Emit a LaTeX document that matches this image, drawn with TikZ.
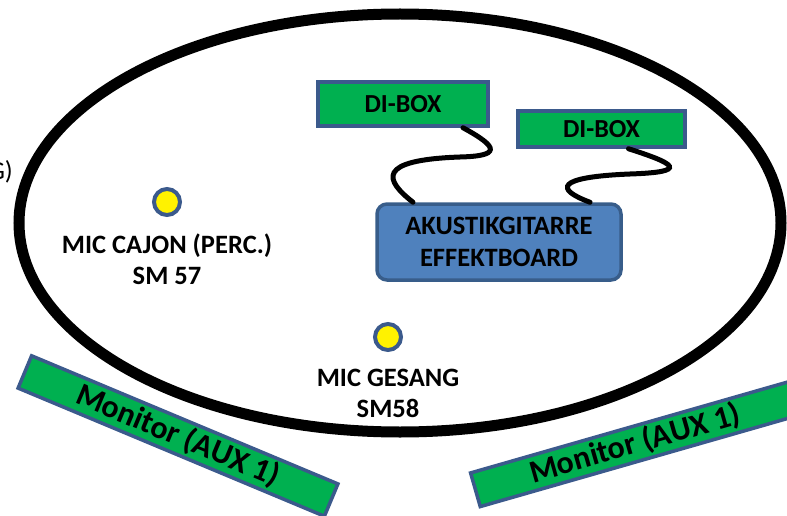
\documentclass[tikz,border=0pt]{standalone}
\usepackage{fontspec}
\setmainfont{Carlito}
\usepackage{tikz}
\usetikzlibrary{shapes.geometric, arrows, positioning, fit}

\definecolor{diGreen}{HTML}{00B050}
\definecolor{edgeBlue}{HTML}{3B5A8C}
\definecolor{boardBlue}{HTML}{4F81BD}
\definecolor{boardEdge}{HTML}{385D8A}

\begin{document}
\begin{tikzpicture}[x=1pt, y=-1pt, node distance=15pt]

        % Define styles
        \tikzstyle{dibox} = [rectangle, draw=edgeBlue, line width=3.5pt, fill=diGreen, text centered, font=\bfseries\fontsize{26}{30}\selectfont]
        \tikzstyle{board} = [rectangle, draw=boardEdge, line width=3.5pt, fill=boardBlue, rounded corners=10pt, align=center, minimum width=244pt, minimum height=76pt, inner sep=0pt, font=\bfseries\fontsize{26.5}{32}\selectfont]
        \tikzstyle{monitor} = [rectangle, draw=edgeBlue, line width=3.5pt, fill=diGreen, minimum width=332pt, minimum height=35pt, inner sep=0pt, font=\bfseries\fontsize{32}{36}\selectfont]
        \tikzstyle{mic} = [circle, draw=edgeBlue, line width=4pt, fill=yellow, minimum size=26pt, inner sep=0pt]
        \tikzstyle{miclabel} = [align=center, inner sep=2pt, font=\bfseries\fontsize{26.5}{31}\selectfont]
        \tikzstyle{cable} = [draw, line width=5pt, line cap=round]

        \useasboundingbox (0,0) rectangle (787,516);

        % Stage
        \draw [line width=11pt] (400,223) ellipse [x radius=381, y radius=209];
        \node [anchor=east, inner sep=0pt, font=\fontsize{26}{30}\selectfont] (cutnote) at (13,172) {G)};

        % Place nodes
        \node [dibox, minimum width=170pt, minimum height=44pt] (dione) at (403,104) {DI-BOX};
        \node [dibox, minimum width=167pt, minimum height=36pt, inner sep=0pt] (ditwo) at (601.5,129) {DI-BOX};
        \node [board] (effekt) at (499,242) {AKUSTIKGITARRE\\EFFEKTBOARD};

        % Microphones
        \node [mic] (cajon) at (167,202) {};
        \node [miclabel, below=of cajon] (cajonlabel) {MIC CAJON (PERC.)\\SM 57};
        \node [mic] (gesang) at (388,337) {};
        \node [miclabel, below=of gesang] (gesanglabel) {MIC GESANG\\SM58};

        % Monitors
        \node [monitor, rotate=-22.7] (monleft) at (178,436) {Monitor (AUX 1)};
        \node [monitor, rotate=16] (monright) at (635,444) {Monitor (AUX 1)};

        % Draw edges
        \path [cable] ([xshift=60pt]dione.south) .. controls +(37,20) and +(40,-1) .. (460,157)
            .. controls +(-85,3) and +(-28,-22) .. ([xshift=-86pt]effekt.north);
        \path [cable] ([xshift=27pt]ditwo.south) .. controls +(47,15) and +(60,-2) .. (630,174)
            .. controls +(-75,3) and +(-35,-13) .. ([xshift=91pt]effekt.north);

    \end{tikzpicture}
\end{document}
